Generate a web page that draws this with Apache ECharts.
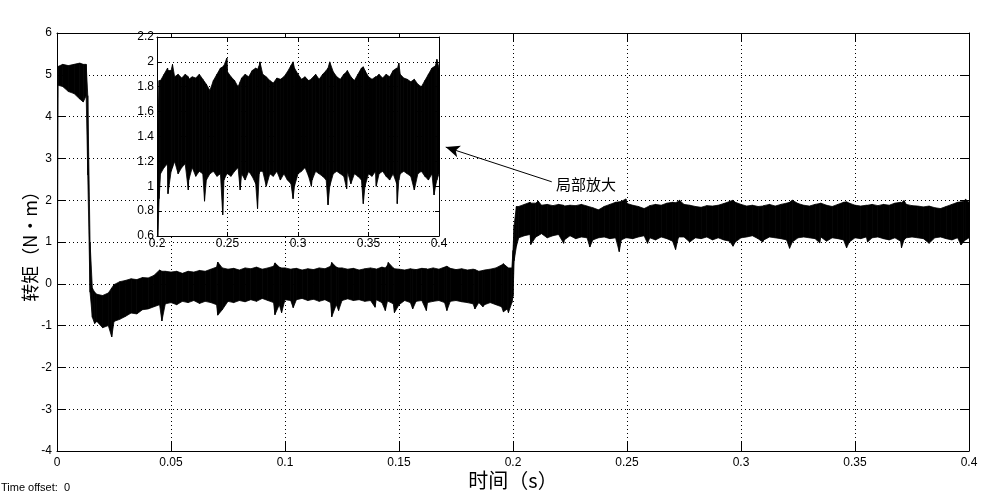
<!DOCTYPE html>
<html>
<head>
<meta charset="utf-8">
<script src="https://cdn.jsdelivr.net/npm/echarts@6.0.0/dist/echarts.min.js"></script>
<style>
  html, body { margin: 0; padding: 0; background: #fff; }
  #chart { width: 995px; height: 500px; }
</style>
</head>
<body>
<div id="chart"></div>
<script>
// 采样时刻 (s)
const times = [
  0, 0.0005, 0.0025, 0.005, 0.0075, 0.01, 0.0115, 0.0128, 0.0135, 0.0145,
  0.0155, 0.0165, 0.0175, 0.02, 0.0225, 0.024, 0.025, 0.0275, 0.03, 0.0325,
  0.035, 0.0375, 0.04, 0.0425, 0.045, 0.046, 0.0475, 0.05, 0.0525, 0.055,
  0.0575, 0.06, 0.0625, 0.065, 0.0675, 0.07, 0.0705, 0.0725, 0.075, 0.0775,
  0.08, 0.0825, 0.085, 0.0875, 0.09, 0.0925, 0.095, 0.0956, 0.0975, 0.0985,
  0.1, 0.1025, 0.1036, 0.105, 0.1075, 0.11, 0.1125, 0.115, 0.1175, 0.12,
  0.1205, 0.1225, 0.1235, 0.125, 0.1275, 0.13, 0.1325, 0.135, 0.1375, 0.1395,
  0.14, 0.1425, 0.144, 0.145, 0.1453, 0.1475, 0.148, 0.15, 0.1525, 0.155,
  0.156, 0.1575, 0.16, 0.162, 0.1625, 0.165, 0.1675, 0.17, 0.171, 0.1725,
  0.175, 0.1775, 0.18, 0.1825, 0.1833, 0.185, 0.1868, 0.1875, 0.19, 0.1925,
  0.195, 0.1958, 0.1975, 0.198, 0.1995, 0.2, 0.2005, 0.2015, 0.2025, 0.205,
  0.2075, 0.2078, 0.21, 0.211, 0.2125, 0.215, 0.2175, 0.22, 0.2222, 0.2225,
  0.225, 0.2275, 0.23, 0.2325, 0.2337, 0.235, 0.2375, 0.24, 0.2425, 0.245,
  0.2466, 0.2475, 0.2495, 0.25, 0.2525, 0.255, 0.2575, 0.259, 0.26, 0.2625,
  0.265, 0.2675, 0.27, 0.2713, 0.2725, 0.273, 0.275, 0.2775, 0.28, 0.2825,
  0.285, 0.2875, 0.29, 0.2925, 0.295, 0.2965, 0.2975, 0.3, 0.3025, 0.305,
  0.3075, 0.3095, 0.31, 0.3125, 0.315, 0.3175, 0.32, 0.3213, 0.3225, 0.325,
  0.3275, 0.33, 0.3325, 0.3345, 0.335, 0.3375, 0.34, 0.3425, 0.345, 0.3463,
  0.3475, 0.35, 0.3525, 0.355, 0.3555, 0.3575, 0.36, 0.3625, 0.365, 0.3675,
  0.37, 0.3704, 0.3715, 0.3725, 0.375, 0.3775, 0.38, 0.3825, 0.385, 0.3875,
  0.39, 0.3925, 0.395, 0.3965, 0.3975, 0.3985, 0.4
];
// 转矩上包络 (N·m)
const upper = [
  5.1, 5.2, 5.25, 5.22, 5.25, 5.28, 5.25, 5.25, 4.5, 1.0,
  -0.1, -0.2, -0.25, -0.28, -0.22, -0.1, -0.02, 0.05, 0.08, 0.12,
  0.1, 0.15, 0.14, 0.2, 0.33, 0.3, 0.3, 0.28, 0.3, 0.25,
  0.3, 0.28, 0.32, 0.3, 0.35, 0.4, 0.52, 0.38, 0.35, 0.37,
  0.33, 0.38, 0.36, 0.4, 0.35, 0.38, 0.42, 0.5, 0.4, 0.38,
  0.38, 0.35, 0.36, 0.37, 0.33, 0.36, 0.34, 0.38, 0.36, 0.42,
  0.51, 0.4, 0.38, 0.38, 0.35, 0.37, 0.33, 0.36, 0.38, 0.36,
  0.35, 0.4, 0.38, 0.45, 0.51, 0.38, 0.36, 0.35, 0.33, 0.36,
  0.35, 0.34, 0.37, 0.36, 0.35, 0.38, 0.35, 0.4, 0.42, 0.37,
  0.34, 0.36, 0.33, 0.35, 0.34, 0.3, 0.32, 0.33, 0.35, 0.38,
  0.45, 0.48, 0.4, 0.38, 0.38, 0.8, 1.4, 1.85, 1.85, 1.9,
  1.95, 1.93, 1.93, 1.98, 1.88, 1.9, 1.87, 1.9, 1.88, 1.86,
  1.88, 1.87, 1.9, 1.86, 1.84, 1.82, 1.77, 1.85, 1.9, 1.95,
  1.96, 1.97, 2.03, 1.92, 1.88, 1.85, 1.8, 1.84, 1.87, 1.9,
  1.88, 1.93, 1.95, 1.94, 1.97, 2.0, 1.9, 1.88, 1.85, 1.83,
  1.87, 1.86, 1.88, 1.92, 1.97, 2.0, 1.95, 1.9, 1.86, 1.88,
  1.85, 1.86, 1.87, 1.9, 1.86, 1.9, 1.93, 1.95, 2.0, 1.92,
  1.88, 1.86, 1.9, 1.92, 1.93, 1.88, 1.85, 1.9, 1.95, 1.96,
  1.93, 1.88, 1.86, 1.88, 1.88, 1.9, 1.87, 1.9, 1.88, 1.93,
  1.95, 1.94, 1.99, 1.9, 1.87, 1.86, 1.84, 1.86, 1.82, 1.8,
  1.85, 1.9, 1.95, 1.96, 1.97, 2.02, 1.95
];
// 转矩下包络 (N·m)
const lower = [
  -2.8, 4.75, 4.72, 4.6, 4.55, 4.42, 4.35, 4.5, 2.6, -0.2,
  -0.8, -0.95, -0.9, -1.05, -1.0, -1.27, -0.9, -0.85, -0.78, -0.7,
  -0.72, -0.62, -0.6, -0.55, -0.5, -0.89, -0.48, -0.45, -0.5, -0.42,
  -0.45, -0.4, -0.47, -0.42, -0.45, -0.5, -0.75, -0.62, -0.42, -0.45,
  -0.4, -0.43, -0.38, -0.42, -0.35, -0.4, -0.45, -0.74, -0.5, -0.69,
  -0.38, -0.4, -0.57, -0.38, -0.35, -0.4, -0.37, -0.42, -0.38, -0.45,
  -0.79, -0.5, -0.64, -0.4, -0.36, -0.4, -0.38, -0.42, -0.4, -0.56,
  -0.38, -0.45, -0.64, -0.4, -0.42, -0.48, -0.69, -0.5, -0.4, -0.45,
  -0.6, -0.42, -0.4, -0.64, -0.45, -0.42, -0.4, -0.45, -0.64, -0.42,
  -0.4, -0.43, -0.45, -0.48, -0.6, -0.45, -0.55, -0.5, -0.45, -0.5,
  -0.55, -0.67, -0.6, -0.69, -0.45, -0.3, 0.55, 0.9, 1.1, 1.15,
  1.18, 0.94, 1.12, 1.15, 1.2, 1.1, 1.15, 1.18, 0.97, 1.05,
  1.15, 1.08, 1.12, 1.1, 0.88, 1.05, 1.1, 1.12, 1.08, 1.1,
  0.77, 1.05, 1.1, 1.1, 1.08, 1.12, 1.15, 0.97, 1.1, 1.05,
  1.12, 1.08, 1.02, 0.82, 1.1, 1.12, 1.12, 1.0, 1.1, 1.08,
  1.12, 1.05, 1.1, 1.05, 1.02, 0.9, 1.0, 1.1, 1.12, 1.15,
  1.08, 1.0, 1.05, 1.12, 1.1, 1.08, 1.05, 0.85, 1.0, 1.1,
  1.12, 1.1, 1.08, 0.98, 1.12, 1.02, 1.1, 1.08, 1.05, 0.86,
  1.0, 1.1, 1.08, 1.12, 1.0, 1.1, 1.12, 1.08, 1.05, 1.1,
  1.02, 0.86, 1.05, 1.1, 1.12, 1.1, 1.08, 0.97, 1.1, 1.12,
  1.08, 1.05, 1.1, 0.93, 1.0, 1.05, 1.1
];

// 每段: [t0, 上0, 下0, t1, 上1, 下1]
const segData = [];
for (let i = 0; i < times.length - 1; i++) {
  segData.push([times[i], upper[i], lower[i], times[i + 1], upper[i + 1], lower[i + 1]]);
}

const labelFont = "'Liberation Sans Narrow', 'Liberation Sans', Arial, sans-serif";
const cjkFont = "'Noto Sans CJK SC', sans-serif";

function xAx(grid, pos, min, max, interval, opts) {
  return Object.assign({
    type: 'value', gridIndex: grid, position: pos, min: min, max: max, interval: interval,
    axisLine: { show: true, onZero: false, lineStyle: { color: '#000', width: 1 } },
    axisTick: { show: true, inside: true, length: opts.tick, lineStyle: { color: '#000' } },
    axisLabel: { show: pos === 'bottom', color: '#000', fontSize: 12, fontFamily: labelFont, margin: opts.margin },
    splitLine: { show: pos === 'bottom', lineStyle: { color: '#000', type: [1, 3], width: 1 } },
    z: opts.z
  }, opts.extra || {});
}
function yAx(grid, pos, min, max, interval, opts) {
  return Object.assign({
    type: 'value', gridIndex: grid, position: pos, min: min, max: max, interval: interval,
    axisLine: { show: true, onZero: false, lineStyle: { color: '#000', width: 1 } },
    axisTick: { show: true, inside: true, length: opts.tick, lineStyle: { color: '#000' } },
    axisLabel: { show: pos === 'left', color: '#000', fontSize: 12, fontFamily: labelFont, margin: opts.margin },
    splitLine: { show: pos === 'left', lineStyle: { color: '#000', type: [1, 3], width: 1 } },
    z: opts.z
  }, opts.extra || {});
}

// 上下包络之间填充黑色（模拟高频噪声带）
function renderBand(params, api) {
  const a = api.coord([api.value(0), api.value(1)]);
  const b = api.coord([api.value(3), api.value(4)]);
  const c = api.coord([api.value(3), api.value(5)]);
  const d = api.coord([api.value(0), api.value(2)]);
  return {
    type: 'polygon',
    shape: { points: [a, b, c, d] },
    style: { fill: '#000', stroke: '#000', lineWidth: 0.8 }
  };
}

function bandSeries(xi, yi, z) {
  return {
    type: 'custom', xAxisIndex: xi, yAxisIndex: yi, z: z, silent: true, clip: true,
    renderItem: renderBand,
    encode: { x: [0, 3], y: [1, 2, 4, 5] },
    data: segData
  };
}

const chart = echarts.init(document.getElementById('chart'));
chart.setOption({
  animation: false,
  backgroundColor: '#fff',
  grid: [
    { left: 57, top: 33, width: 912, height: 418, z: 0 },
    { left: 157, top: 37, width: 282, height: 199, show: true, backgroundColor: '#fff', borderWidth: 0, z: 3 }
  ],
  xAxis: [
    xAx(0, 'bottom', 0, 0.4, 0.05, { tick: 9, margin: 6, z: 0, extra: {
      name: '时间（s）', nameLocation: 'middle', nameGap: 19, nameMoveOverlap: false,
      nameTextStyle: { fontSize: 20, fontFamily: cjkFont, color: '#000' } } }),
    xAx(0, 'top', 0, 0.4, 0.05, { tick: 9, margin: 6, z: 0 }),
    xAx(1, 'bottom', 0.2, 0.4, 0.05, { tick: 4, margin: 2, z: 4 }),
    xAx(1, 'top', 0.2, 0.4, 0.05, { tick: 4, margin: 2, z: 4 })
  ],
  yAxis: [
    yAx(0, 'left', -4, 6, 1, { tick: 9, margin: 5, z: 0, extra: {
      name: '转矩（N•m）', nameLocation: 'middle', nameGap: 18, nameMoveOverlap: false,
      nameTextStyle: { fontSize: 18, fontFamily: cjkFont, color: '#000' } } }),
    yAx(0, 'right', -4, 6, 1, { tick: 9, margin: 5, z: 0 }),
    yAx(1, 'left', 0.6, 2.2, 0.2, { tick: 4, margin: 3, z: 4 }),
    yAx(1, 'right', 0.6, 2.2, 0.2, { tick: 4, margin: 3, z: 4 })
  ],
  series: [
    bandSeries(0, 0, 2),
    bandSeries(2, 2, 5),
    {
      // 局部放大 箭头
      type: 'line', xAxisIndex: 0, yAxisIndex: 0, data: [], z: 6, silent: true,
      markLine: {
        silent: true, animation: false,
        symbol: ['arrow', 'none'], symbolSize: [9, 14],
        lineStyle: { color: '#000', width: 1, type: 'solid' },
        label: { show: false },
        data: [[{ coord: [0.1705, 3.27] }, { coord: [0.217, 2.44] }]]
      }
    }
  ],
  graphic: [
    { type: 'text', left: 556, top: 177, style: { text: '局部放大', font: '15px ' + cjkFont, fill: '#000' } },
    { type: 'text', left: 1, top: 482, style: { text: 'Time offset:  0', font: '11px ' + labelFont, fill: '#000' } }
  ]
});
</script>
</body>
</html>
